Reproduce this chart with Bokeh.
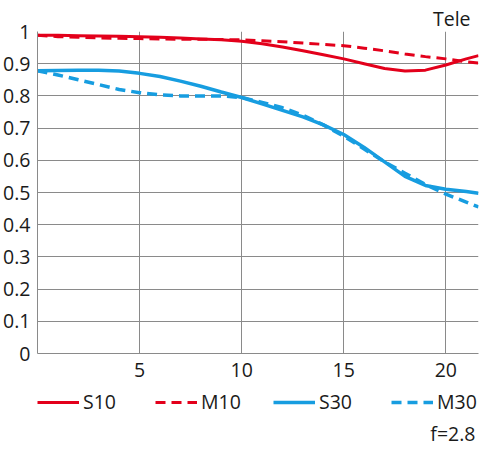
from bokeh.plotting import figure
from bokeh.models import Range1d, FixedTicker, Legend, LegendItem, Label
from bokeh.layouts import column
from bokeh.embed import file_html
from bokeh.resources import INLINE

x_vals = [0, 1, 2, 3, 4, 5, 6, 7, 8, 9, 10, 11, 12, 13, 14, 15, 16, 17, 18, 19, 20, 21, 21.6]
s10 = [0.988, 0.988, 0.987, 0.986, 0.985, 0.984, 0.982, 0.980, 0.977, 0.974, 0.970, 0.962, 0.952, 0.940, 0.928,
       0.915, 0.900, 0.885, 0.877, 0.880, 0.896, 0.915, 0.925]
m10 = [0.988, 0.984, 0.982, 0.980, 0.979, 0.978, 0.977, 0.976, 0.976, 0.975, 0.974, 0.971, 0.968, 0.964, 0.960,
       0.956, 0.948, 0.940, 0.930, 0.922, 0.915, 0.906, 0.902]
s30 = [0.878, 0.879, 0.880, 0.880, 0.877, 0.870, 0.860, 0.846, 0.830, 0.812, 0.795, 0.775, 0.755, 0.735, 0.710,
       0.680, 0.640, 0.595, 0.550, 0.522, 0.510, 0.503, 0.498]
m30 = [0.878, 0.865, 0.850, 0.835, 0.820, 0.810, 0.803, 0.800, 0.800, 0.800, 0.795, 0.780, 0.763, 0.740, 0.710,
       0.675, 0.635, 0.595, 0.560, 0.525, 0.495, 0.470, 0.455]
series_names = ["S10", "M10", "S30", "M30"]
x_ticks = [5, 10, 15, 20]
y_ticks = [0, 0.1, 0.2, 0.3, 0.4, 0.5, 0.6, 0.7, 0.8, 0.9, 1.0]
y_tick_labels = ["0", "0.1", "0.2", "0.3", "0.4", "0.5", "0.6", "0.7", "0.8", "0.9", "1"]

RED = "#e3001b"
BLUE = "#179de0"
GRID = "#8a8a8a"
FONT = "Open Sans"
FS = "19.5px"
TXT = "#1a1a1a"
styles = [dict(line_color=RED, line_width=3),
          dict(line_color=RED, line_width=3, line_dash="10 6"),
          dict(line_color=BLUE, line_width=3.5),
          dict(line_color=BLUE, line_width=3.5, line_dash="10 6")]

W = 484
H_MAIN = 388
H_LEG = 59

p = figure(width=W, height=H_MAIN, output_backend="svg", toolbar_location=None,
           x_range=Range1d(0, 21.6), y_range=Range1d(0, 1),
           min_border_left=36, min_border_right=6, min_border_top=31, min_border_bottom=35)
p.outline_line_color = None
p.background_fill_color = "white"
p.border_fill_color = "white"

p.title.text = "Tele"
p.title.align = "right"
p.title.text_font = FONT
p.title.text_font_size = FS
p.title.text_font_style = "normal"
p.title.text_color = TXT
p.title.offset = 8
p.title.standoff = 0

for ax in (p.xaxis[0], p.yaxis[0]):
    ax.axis_line_color = GRID
    ax.axis_line_width = 1
    ax.major_tick_line_color = None
    ax.minor_tick_line_color = None
    ax.major_tick_out = 0
    ax.major_tick_in = 0
    ax.minor_tick_out = 0
    ax.minor_tick_in = 0
    ax.major_label_text_font = FONT
    ax.major_label_text_font_size = FS
    ax.major_label_text_color = TXT

p.xaxis[0].ticker = FixedTicker(ticks=x_ticks)
p.yaxis[0].ticker = FixedTicker(ticks=y_ticks)
p.yaxis[0].major_label_overrides = {t: l for t, l in zip(y_ticks, y_tick_labels)}
p.xaxis[0].major_label_standoff = 9
p.yaxis[0].major_label_standoff = 7

p.xgrid.grid_line_color = GRID
p.ygrid.grid_line_color = GRID
p.xgrid.ticker = FixedTicker(ticks=x_ticks)
p.ygrid.ticker = FixedTicker(ticks=y_ticks)

for ys, st in zip([s10, m10, s30, m30], styles):
    p.line(x_vals, ys, **st)

# legend strip below the chart (its frame is aligned with the chart's frame)
q = figure(width=W, height=H_LEG, output_backend="svg", toolbar_location=None,
           x_range=Range1d(0, 1), y_range=Range1d(0, 1),
           min_border_left=36, min_border_right=6, min_border_top=0, min_border_bottom=0)
q.axis.visible = False
q.grid.visible = False
q.outline_line_color = None
q.background_fill_color = "white"
q.border_fill_color = "white"

nan = float("nan")
items = []
for name, st in zip(series_names, styles):
    r = q.line([nan, nan], [nan, nan], **st)
    items.append(LegendItem(label=name, renderers=[r]))

legend = Legend(items=items, orientation="horizontal", location="top_left",
                glyph_width=42, glyph_height=24, label_standoff=4, label_width=62,
                spacing=10, padding=0, margin=0,
                border_line_color=None, background_fill_alpha=0,
                label_text_font=FONT, label_text_font_size=FS, label_text_color=TXT)
q.add_layout(legend, "center")

q.add_layout(Label(x=438, y=14, x_units="screen", y_units="screen", text="f=2.8",
                   text_font=FONT, text_font_size=FS, text_color=TXT,
                   text_align="right", text_baseline="middle"))

open("out.html", "w").write(file_html(column(p, q, spacing=0), INLINE))
